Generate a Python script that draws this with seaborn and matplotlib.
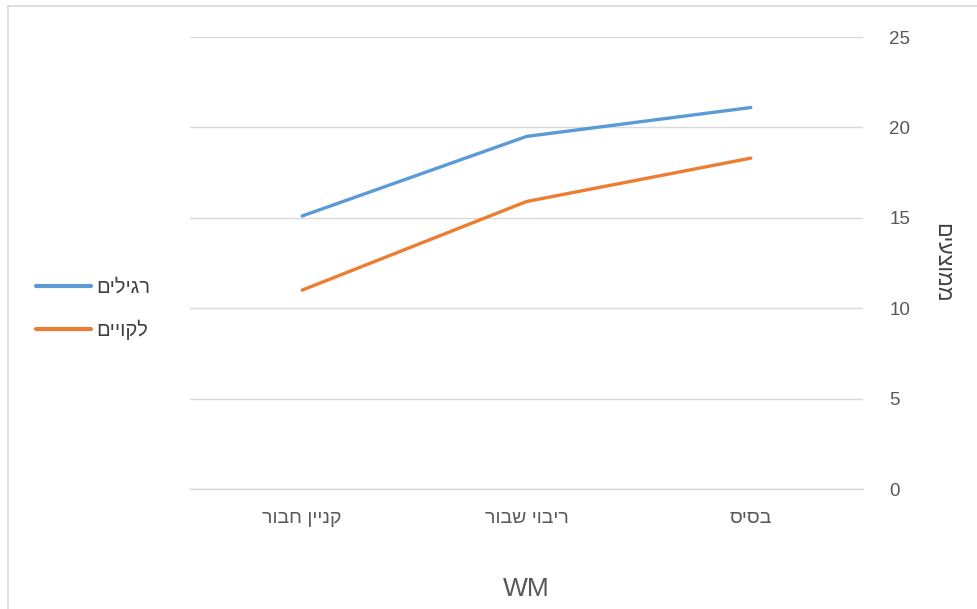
import matplotlib
matplotlib.use("Agg")
import matplotlib.pyplot as plt
import seaborn as sns
import pandas as pd
from matplotlib.lines import Line2D

# Working-memory task categories, left to right as displayed
categories = ["קניין חבור", "ריבוי שבור", "בסיס"]
regular = [15.1, 19.5, 21.1]     # רגילים
impaired = [11.0, 15.9, 18.3]    # לקויים
series_names = ["רגילים", "לקויים"]
y_ticks = [0, 5, 10, 15, 20, 25]
x_title = "WM"
y_title = "ממוצעים"


def rtl(s):
    """Visual order for right-to-left text (matplotlib draws glyphs left to right)."""
    return s[::-1]


df = pd.DataFrame({
    "category": [rtl(c) for c in categories] * 2,
    "value": regular + impaired,
    "group": [rtl(series_names[0])] * 3 + [rtl(series_names[1])] * 3,
})

sns.set_theme(style="white")
plt.rcParams["font.family"] = ["Liberation Sans", "DejaVu Sans"]

fig = plt.figure(figsize=(9.77, 6.09), dpi=100)
W, H = 977, 609
left, right, top, bottom = 190, 863, 37, 489
ax = fig.add_axes([left / W, 1 - bottom / H, (right - left) / W, (bottom - top) / H])

palette = {rtl(series_names[0]): "#5B9BD5", rtl(series_names[1]): "#ED7D31"}
sns.lineplot(data=df, x="category", y="value", hue="group", palette=palette,
             linewidth=2.4, sort=False, ax=ax, legend=False)

ax.set_xlim(-0.5, 2.5)
ax.set_ylim(0, 25)
ax.set_yticks(y_ticks)
ax.yaxis.tick_right()
ax.yaxis.set_label_position("right")
ax.grid(axis="y", color="#d9d9d9", linewidth=1.0)
ax.grid(axis="x", visible=False)
ax.set_axisbelow(True)
for side in ["top", "right", "left"]:
    ax.spines[side].set_visible(False)
ax.spines["bottom"].set_color("#d9d9d9")
ax.spines["bottom"].set_linewidth(1.0)

ax.tick_params(axis="y", length=0, pad=19, labelsize=13.5, labelcolor="#595959")
ax.tick_params(axis="x", length=0, pad=15, labelsize=14, labelcolor="#595959")
for lbl in ax.get_yticklabels():
    lbl.set_horizontalalignment("left")

ax.set_xlabel(x_title, fontsize=19, color="#595959")
ax.xaxis.set_label_coords(0.5, -(589 - bottom) / (bottom - top), transform=ax.transAxes)
ax.xaxis.label.set_verticalalignment("center")
ax.set_ylabel(rtl(y_title), fontsize=15.5, color="#404040", rotation=270)
ax.yaxis.set_label_coords((942 - left) / (right - left), (bottom - 263) / (bottom - top))
ax.yaxis.label.set_verticalalignment("center")

handles = [Line2D([0], [0], color=palette[k], linewidth=3) for k in palette]
fig.legend(handles, list(palette.keys()), loc="center left",
           bbox_to_anchor=(18 / W, 1 - 309 / H), frameon=False,
           fontsize=14.5, handlelength=2.7, handletextpad=0.3,
           labelspacing=1.15, labelcolor="#404040")

# thin chart-area border
fig.add_artist(Line2D([8 / W, 8 / W], [0, 1 - 6 / H], transform=fig.transFigure,
                      color="#d9d9d9", linewidth=1.2))
fig.add_artist(Line2D([8 / W, 1], [1 - 6 / H, 1 - 6 / H], transform=fig.transFigure,
                      color="#d9d9d9", linewidth=1.2))

fig.savefig("out.png", dpi=100)
